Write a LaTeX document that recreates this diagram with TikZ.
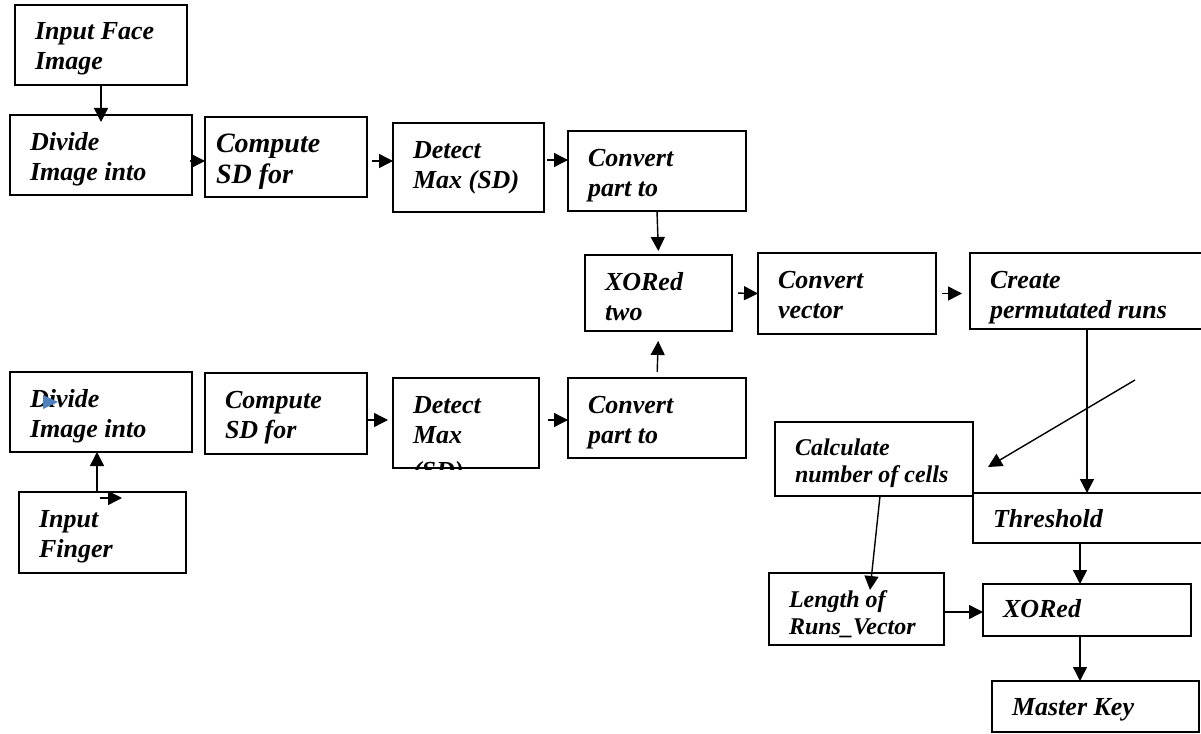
\documentclass[tikz,border=0pt]{standalone}
\usepackage{fontspec}
\setmainfont{Liberation Serif}
\usetikzlibrary{arrows.meta}
\definecolor{markblue}{HTML}{4F81BD}
\tikzset{
    stage/.style={draw, line width=1.3pt, anchor=north west, inner xsep=20pt,
    inner ysep=0pt, outer sep=0pt, text height=35pt,
    font=\bfseries\itshape\fontsize{26}{30}\selectfont},
    smallstage/.style={stage, font=\bfseries\itshape\fontsize{24}{27}\selectfont},
    flow/.style={line width=1.4pt},
}

\begin{document}
\begin{tikzpicture}[x=1pt, y=-1pt, >={Triangle[length=14pt, width=14pt]}]
    \useasboundingbox (0,0) rectangle (1201,733);
    % face branch
    \node[stage, text depth=45pt] (face) at (15,5) {\parbox[t]{132pt}{Input Face\\Image}};
    \node[stage, text depth=45pt] (divA) at (10,115) {\parbox[t]{142pt}{Divide\\Image into}};
    \node[stage, text depth=45pt, inner xsep=11pt,
        font=\bfseries\itshape\fontsize{28}{31}\selectfont] (compA) at (205,117) {\parbox[t]{140pt}{Compute\\SD for}};
    \node[stage, text depth=54pt] (detA) at (393,123) {\parbox[t]{111pt}{Detect\\Max (SD)}};
    \node[stage, text depth=45pt] (convA) at (568,131) {\parbox[t]{138pt}{Convert\\part to}};
    % fusion
    \node[stage, text depth=41pt] (xorA) at (585,255) {\parbox[t]{107pt}{XORed\\two}};
    \node[stage, text depth=46pt] (vecA) at (758,253) {\parbox[t]{138pt}{Convert\\vector}};
    \node[stage, text depth=41pt] (create) at (970,253) {\parbox[t]{200pt}{Create\\permutated runs}};
    % finger branch
    \node[stage, text depth=45pt] (divB) at (10,372) {\parbox[t]{142pt}{Divide\\Image into}};
    \node[stage, text depth=46pt] (compB) at (205,373) {\parbox[t]{122pt}{Compute\\SD for}};
    \begin{scope}
        \clip (391,376) rectangle (541,469);
        \node[stage, text depth=55pt] (detB) at (393,378) {\parbox[t]{106pt}{Detect\\Max\\[6pt](SD)}};
    \end{scope}
    \node[stage, text depth=45pt] (convB) at (568,378) {\parbox[t]{138pt}{Convert\\part to}};
    \node[stage, text depth=46pt] (finger) at (19,492) {\parbox[t]{127pt}{Input\\Finger}};
    % key generation
    \node[smallstage, text height=33pt, text depth=41pt] (calc) at (775,422) {\parbox[t]{158pt}{Calculate\\number of cells}};
    \node[stage, text height=34pt, text depth=16pt] (thresh) at (973,493) {\parbox[t]{197pt}{Threshold}};
    \node[smallstage, text height=34pt, text depth=38pt] (lenv) at (769,573) {\parbox[t]{135pt}{Length of\\Runs\_Vector}};
    \node[stage, text height=33pt, text depth=19pt] (xorB) at (983,584) {\parbox[t]{168pt}{XORed}};
    \node[stage, text height=34pt, text depth=17pt] (master) at (992,681) {\parbox[t]{167pt}{Master Key}};
    \coordinate (loose) at (1135,380);
    % arrows
    \draw[flow, ->, shorten >=-7pt] (face.south) -- (divA.north);
    \draw[flow, ->, shorten <=2pt] ([yshift=-6pt]divA.east) -- ([yshift=-4pt]compA.west);
    \draw[flow, ->, shorten <=5pt] ([yshift=-4pt]compA.east) -- ([yshift=6.5pt]detA.west);
    \draw[flow, ->, shorten <=3pt] ([yshift=7.5pt]detA.east) -- ([yshift=11pt]convA.west);
    \draw[flow, ->, shorten >=4pt] (convA.south) -- (xorA.north);
    \draw[flow, ->, shorten <=6pt] (xorA.east) -- (vecA.west);
    \draw[flow, ->, shorten <=6pt, shorten >=8pt] (vecA.east) -- ([yshift=-2.5pt]create.west);
    \draw[flow, ->] ([xshift=-3pt]create.south) -- ([xshift=-4.5pt]thresh.north);
    \draw[flow, ->] (loose) -- ([xshift=15pt, yshift=-8pt]calc.east);
    \draw[flow, ->] ([xshift=6pt]calc.south) -- ([xshift=13.5pt, yshift=-17pt]lenv.north);
    \draw[flow, ->] ([xshift=-11.5pt]thresh.south) -- ([xshift=-7pt]xorB.north);
    \draw[flow, ->] ([yshift=-3pt]lenv.east) -- ([yshift=-2pt]xorB.west);
    \draw[flow, ->] ([xshift=-7pt]xorB.south) -- ([xshift=-15.5pt]master.north);
    \draw[flow, ->] ([xshift=-5.5pt]finger.north) -- ([xshift=-4pt]divB.south);
    \draw[flow, ->] ([xshift=-2.5pt, yshift=-6pt]finger.north) -- ([xshift=19.5pt, yshift=-6pt]finger.north);
    \fill[markblue] ([shift={(33,23)}]divB.north west) -- ++(15,7) -- ++(-15,7) -- cycle;
    \draw[flow, ->, shorten >=5pt] ([yshift=-6.5pt]compB.east) -- ([yshift=3pt]detB.west);
    \draw[flow, ->, shorten <=9pt] ([yshift=3pt]detB.east) -- ([yshift=-2pt]convB.west);
    \draw[flow, ->, shorten <=6pt, shorten >=10pt] (convB.north) -- (xorA.south);
\end{tikzpicture}
\end{document}
